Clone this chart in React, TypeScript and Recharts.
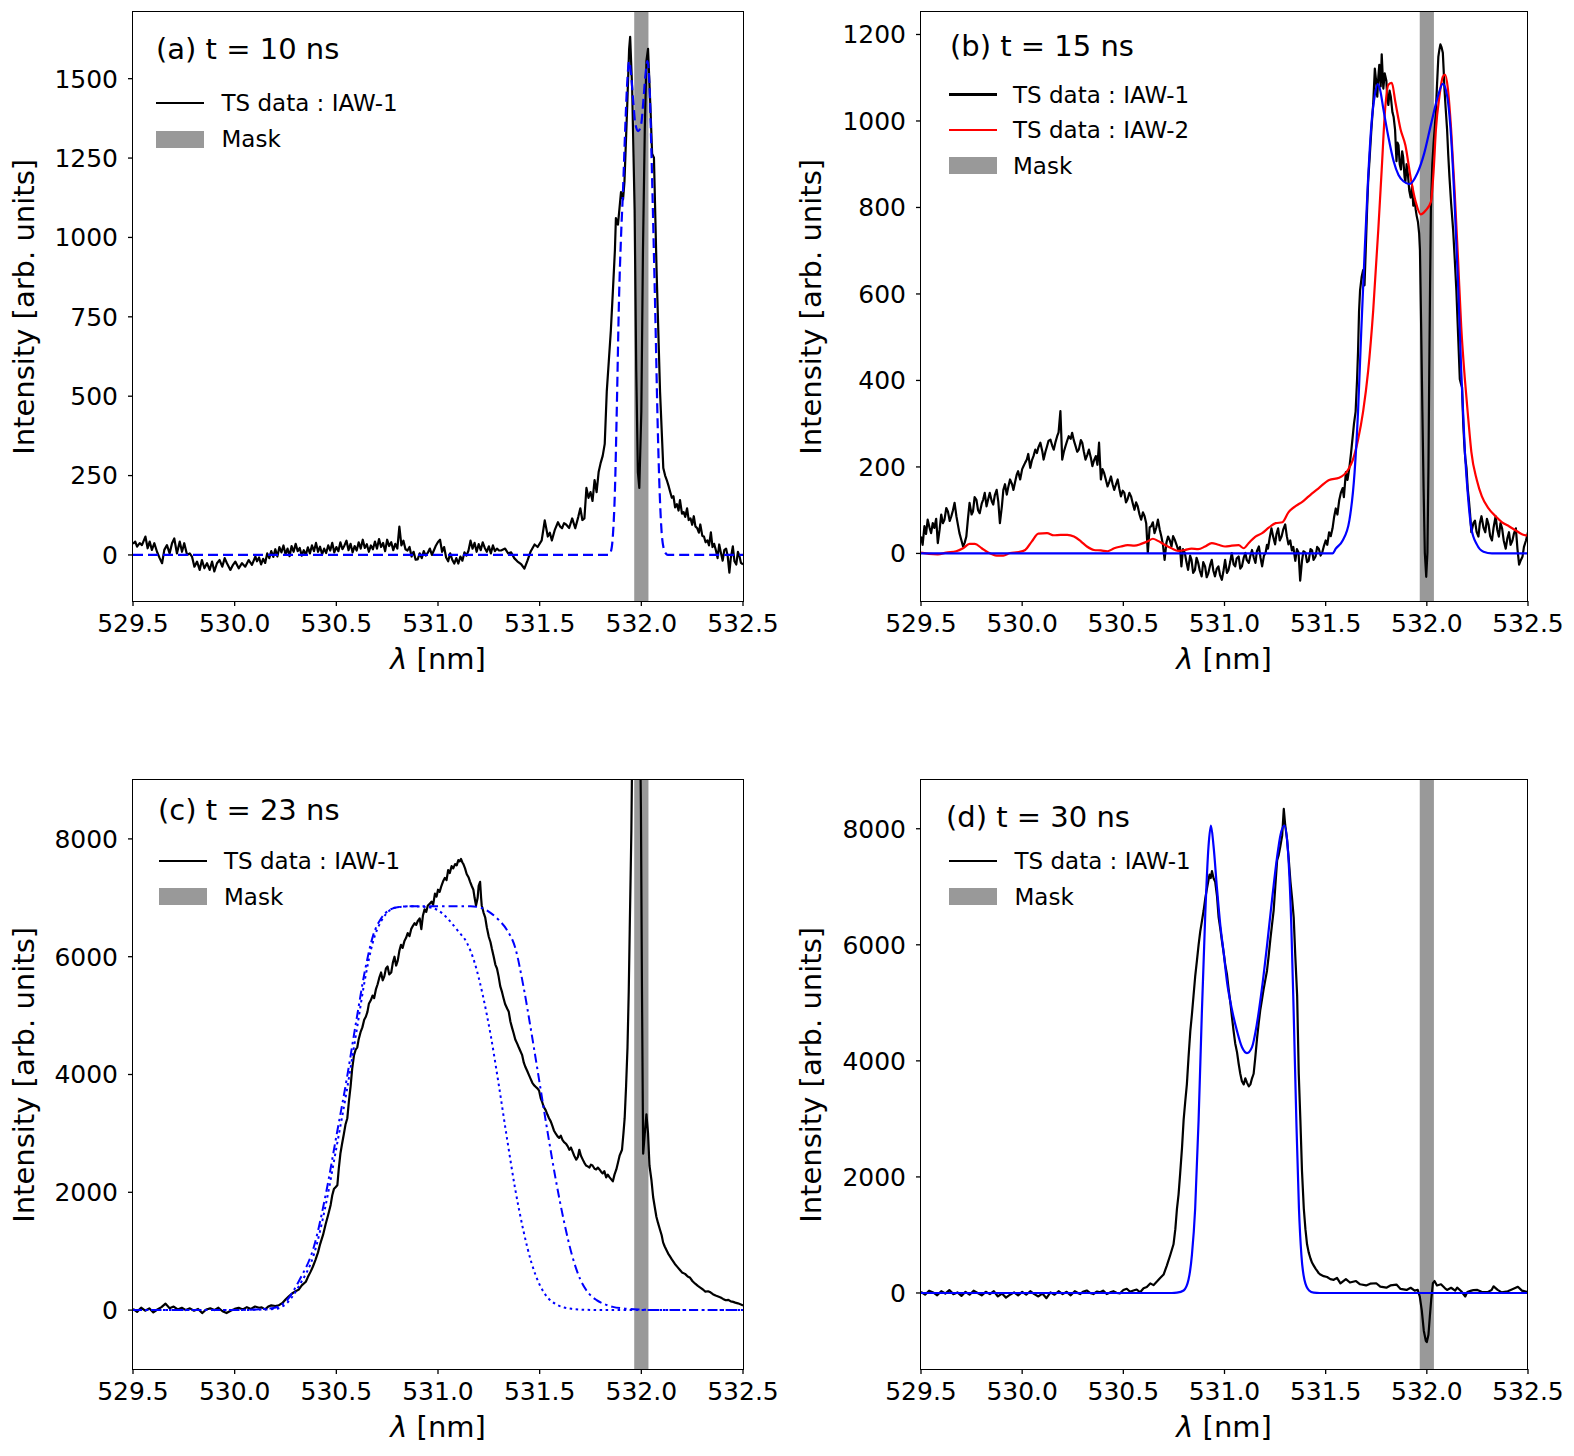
import React from "react";
import { LineChart, Line, XAxis, YAxis, ReferenceArea } from "recharts";

type Pt = [number, number];

const FONT = "'DejaVu Sans', 'Liberation Sans', sans-serif";

// shared axis data
const lambdaTicks = [529.5, 530.0, 530.5, 531.0, 531.5, 532.0, 532.5];
const lambdaDomain = [529.5, 532.5];
const maskBand = [531.965, 532.035];

// ---------- (a) t = 10 ns ----------
const aTicks = [0, 250, 500, 750, 1000, 1250, 1500];
const aDomain = [-145, 1710];
const aData: Pt[] = [
  [529.5, 40], [529.503, 37], [529.511, 42], [529.52, 26], [529.533, 37], [529.544, 31], [529.561, 58], [529.572, 21],
  [529.582, 42], [529.593, 16], [529.605, 37], [529.618, 10], [529.631, -10], [529.643, -26], [529.654, 16], [529.667, 31],
  [529.68, 5], [529.692, 37], [529.703, 52], [529.716, 5], [529.73, 42], [529.741, 10], [529.752, 37], [529.766, 0],
  [529.779, 5], [529.79, -5], [529.802, -37], [529.815, -21], [529.828, -47], [529.839, -16], [529.851, -42], [529.864, -26],
  [529.877, -47], [529.889, -21], [529.9, -52], [529.913, -26], [529.926, -16], [529.939, -37], [529.951, -10], [529.962, -26],
  [529.979, -47], [529.992, -31], [530.003, -21], [530.02, -42], [530.036, -26], [530.052, -37], [530.069, -16], [530.085, -31],
  [530.102, -5], [530.11, -20], [530.12, -8], [530.13, -30], [530.14, -12], [530.15, -25], [530.16, 5], [530.17, -10],
  [530.18, 12], [530.19, -6], [530.2, 18], [530.21, -5], [530.22, 25], [530.23, 8], [530.24, 30], [530.25, 2],
  [530.26, 20], [530.27, -4], [530.28, 28], [530.29, 10], [530.3, 35], [530.31, 12], [530.32, 22], [530.33, -2],
  [530.34, 15], [530.35, 0], [530.36, 24], [530.37, 5], [530.38, 30], [530.39, 12], [530.4, 38], [530.41, 10],
  [530.42, 26], [530.43, 2], [530.44, 20], [530.45, 6], [530.46, 30], [530.47, 14], [530.48, 38], [530.49, 8],
  [530.5, 25], [530.51, 12], [530.52, 40], [530.53, 18], [530.54, 30], [530.55, 45], [530.56, 15], [530.57, 35],
  [530.58, 8], [530.59, 28], [530.6, 14], [530.61, 40], [530.62, 20], [530.63, 48], [530.64, 22], [530.65, 34],
  [530.66, 10], [530.67, 30], [530.68, 18], [530.69, 42], [530.7, 20], [530.71, 50], [530.72, 25], [530.73, 38],
  [530.74, 12], [530.75, 48], [530.76, 28], [530.77, 40], [530.78, 15], [530.79, 35], [530.8, 20], [530.81, 89],
  [530.82, 30], [530.83, 45], [530.84, 18], [530.85, 14], [530.86, 25], [530.87, -5], [530.88, 10], [530.89, -15],
  [530.9, -14], [530.91, 5], [530.92, -10], [530.93, 12], [530.94, -2], [530.95, 7], [530.96, 20], [530.97, 0],
  [530.98, 15], [530.99, 30], [531.0, 41], [531.01, 48], [531.02, 10], [531.03, 25], [531.04, -8], [531.05, -20],
  [531.06, 5], [531.07, -15], [531.08, -27], [531.09, -10], [531.1, -27], [531.11, -5], [531.12, -18], [531.13, 8],
  [531.14, -2], [531.15, 14], [531.16, 45], [531.17, 20], [531.18, 38], [531.19, 10], [531.2, 34], [531.21, 15],
  [531.22, 40], [531.23, 22], [531.24, 10], [531.25, 27], [531.26, 5], [531.27, 30], [531.28, 12], [531.29, 20],
  [531.3, 14], [531.31, 14], [531.33, 20], [531.345, 5], [531.36, 8], [531.375, -10], [531.39, -20], [531.41, -30],
  [531.425, -43], [531.44, -18], [531.455, 10], [531.475, 33], [531.49, 25], [531.51, 46], [531.525, 109], [531.54, 58],
  [531.55, 70], [531.56, 46], [531.575, 80], [531.59, 103], [531.6, 90], [531.61, 84], [531.62, 100], [531.63, 96],
  [531.645, 85], [531.66, 115], [531.675, 84], [531.69, 120], [531.7, 147], [531.71, 110], [531.72, 115], [531.73, 211],
  [531.74, 180], [531.75, 198], [531.76, 170], [531.77, 236], [531.78, 198], [531.79, 261], [531.8, 290], [531.81, 312],
  [531.82, 350], [531.83, 515], [531.84, 610], [531.85, 706], [531.86, 830], [531.87, 959], [531.875, 1061], [531.885, 1040],
  [531.89, 1074], [531.9, 1143], [531.91, 1120], [531.917, 1175], [531.93, 1404], [531.94, 1594], [531.945, 1632], [531.955, 1467],
  [531.967, 1086], [531.975, 579], [531.983, 261], [531.99, 211], [532.0, 452], [532.008, 959], [532.017, 1340], [532.025, 1556],
  [532.033, 1594], [532.045, 1404], [532.053, 1264], [532.062, 1251], [532.075, 896], [532.092, 515], [532.108, 274], [532.117, 250],
  [532.125, 236], [532.135, 215], [532.142, 198], [532.15, 180], [532.158, 185], [532.166, 150], [532.175, 160], [532.183, 140],
  [532.19, 173], [532.2, 130], [532.208, 135], [532.216, 120], [532.225, 147], [532.233, 110], [532.242, 115], [532.25, 95],
  [532.258, 122], [532.266, 90], [532.275, 84], [532.283, 70], [532.29, 96], [532.3, 60], [532.308, 58], [532.316, 40],
  [532.325, 46], [532.333, 30], [532.342, 71], [532.35, 25], [532.358, 35], [532.367, 14], [532.375, -10], [532.383, 33],
  [532.392, 5], [532.4, -18], [532.408, 15], [532.417, 20], [532.425, -5], [532.433, -56], [532.44, -10], [532.45, 27],
  [532.458, -20], [532.467, -30], [532.475, 10], [532.483, -5], [532.49, -25], [532.5, -30],
];
const aFit: Pt[] = [
  [529.5, 0], [531.84, 0], [531.85, 10], [531.86, 60], [531.87, 200], [531.88, 480], [531.89, 800], [531.9, 1000],
  [531.91, 1150], [531.92, 1330], [531.93, 1480], [531.94, 1555], [531.95, 1510], [531.96, 1430], [531.97, 1360], [531.985, 1335],
  [532.0, 1360], [532.01, 1430], [532.02, 1510], [532.03, 1555], [532.04, 1480], [532.05, 1260], [532.06, 1000], [532.07, 720],
  [532.08, 420], [532.09, 200], [532.1, 70], [532.11, 20], [532.12, 5], [532.13, 0], [532.5, 0],
];

// ---------- (b) t = 15 ns ----------
const bTicks = [0, 200, 400, 600, 800, 1000, 1200];
const bDomain = [-110, 1252];
const bData1: Pt[] = [
  [529.5, 39], [529.508, 20], [529.517, 63], [529.525, 45], [529.533, 78], [529.542, 60], [529.55, 47], [529.558, 70],
  [529.566, 59], [529.575, 80], [529.583, 24], [529.592, 55], [529.6, 90], [529.608, 70], [529.616, 78], [529.625, 105],
  [529.633, 97], [529.642, 75], [529.65, 86], [529.658, 100], [529.666, 117], [529.675, 86], [529.683, 65], [529.69, 47],
  [529.7, 30], [529.708, 16], [529.716, 25], [529.724, 39], [529.732, 80], [529.74, 117], [529.75, 90], [529.757, 97],
  [529.765, 130], [529.774, 124], [529.782, 100], [529.79, 93], [529.8, 115], [529.807, 124], [529.815, 140], [529.824, 109],
  [529.832, 125], [529.84, 140], [529.85, 120], [529.857, 113], [529.865, 135], [529.874, 147], [529.882, 120], [529.89, 70],
  [529.9, 110], [529.907, 147], [529.915, 160], [529.924, 136], [529.932, 155], [529.94, 171], [529.95, 160], [529.957, 147],
  [529.965, 165], [529.973, 182], [529.98, 190], [529.99, 171], [530.0, 195], [530.007, 202], [530.015, 210], [530.023, 217],
  [530.03, 230], [530.04, 198], [530.048, 215], [530.056, 225], [530.065, 240], [530.073, 232], [530.08, 245], [530.09, 256],
  [530.1, 235], [530.106, 217], [530.115, 235], [530.123, 248], [530.13, 260], [530.14, 263], [530.148, 250], [530.156, 240],
  [530.165, 258], [530.173, 271], [530.18, 280], [530.189, 329], [530.198, 217], [530.206, 235], [530.214, 248], [530.222, 260],
  [530.23, 271], [530.24, 265], [530.247, 279], [530.255, 262], [530.264, 248], [530.272, 235], [530.28, 240], [530.29, 262],
  [530.297, 256], [530.305, 235], [530.313, 217], [530.322, 228], [530.33, 240], [530.34, 220], [530.347, 202], [530.355, 215],
  [530.364, 225], [530.372, 205], [530.38, 256], [530.389, 171], [530.397, 195], [530.405, 186], [530.414, 170], [530.422, 155],
  [530.43, 165], [530.439, 178], [530.447, 160], [530.455, 147], [530.464, 160], [530.472, 171], [530.48, 150], [530.488, 132],
  [530.497, 145], [530.505, 140], [530.513, 118], [530.52, 124], [530.53, 140], [530.538, 132], [530.547, 115], [530.555, 101],
  [530.563, 118], [530.571, 109], [530.58, 90], [530.588, 78], [530.597, 95], [530.605, 86], [530.613, 70], [530.621, 1],
  [530.63, 60], [530.638, 63], [530.646, 72], [530.654, 47], [530.663, 60], [530.671, 78], [530.68, 55], [530.688, 39],
  [530.696, 20], [530.704, -15], [530.713, 25], [530.721, 39], [530.73, 30], [530.738, 16], [530.746, 40], [530.754, 32],
  [530.763, 20], [530.771, 8], [530.78, 15], [530.787, -30], [530.795, 10], [530.804, 1], [530.812, -20], [530.82, -38],
  [530.83, -5], [530.837, -15], [530.845, -45], [530.854, -38], [530.862, -10], [530.87, -22], [530.878, -40], [530.887, -53],
  [530.895, -20], [530.904, -30], [530.912, -55], [530.92, -46], [530.93, -25], [530.937, -15], [530.945, -40], [530.953, -53],
  [530.962, -35], [530.97, -30], [530.978, -50], [530.987, -61], [530.995, -40], [531.003, -15], [531.012, -45], [531.02, -38],
  [531.028, -20], [531.036, 1], [531.045, -25], [531.053, -30], [531.06, -12], [531.07, -7], [531.078, -35], [531.086, -30],
  [531.095, -10], [531.103, 1], [531.11, -15], [531.12, -22], [531.128, -5], [531.136, 8], [531.145, -10], [531.153, -22],
  [531.16, 5], [531.17, 16], [531.178, -10], [531.186, -30], [531.195, -5], [531.203, 1], [531.21, 20], [531.215, 11],
  [531.223, 35], [531.232, 58], [531.24, 40], [531.25, 21], [531.257, 45], [531.265, 58], [531.273, 30], [531.282, 39],
  [531.29, 55], [531.3, 67], [531.308, 40], [531.316, 21], [531.325, 30], [531.333, 7], [531.34, 15], [531.35, -17],
  [531.358, 10], [531.366, 2], [531.374, -63], [531.383, -17], [531.39, 5], [531.4, 2], [531.408, -20], [531.416, -17],
  [531.425, 10], [531.433, 7], [531.44, -15], [531.45, -7], [531.458, 15], [531.466, 11], [531.475, -5], [531.483, 2],
  [531.49, 15], [531.5, 30], [531.508, 20], [531.517, 49], [531.525, 40], [531.534, 58], [531.542, 85], [531.55, 104],
  [531.558, 90], [531.567, 123], [531.575, 140], [531.584, 151], [531.59, 130], [531.6, 188], [531.608, 170], [531.617, 198],
  [531.625, 230], [531.634, 272], [531.64, 300], [531.648, 328], [531.655, 400], [531.66, 467], [531.665, 560], [531.67, 608],
  [531.678, 640], [531.685, 655], [531.692, 620], [531.698, 701], [531.705, 800], [531.71, 860], [531.718, 920], [531.726, 981],
  [531.735, 1040], [531.743, 1121], [531.75, 1090], [531.755, 1056], [531.76, 1100], [531.765, 1130], [531.772, 1080], [531.777, 1154],
  [531.785, 1075], [531.792, 1110], [531.8, 1093], [531.805, 1050], [531.81, 1037], [531.816, 1070], [531.822, 1056], [531.83, 1020],
  [531.836, 1009], [531.843, 980], [531.85, 907], [531.855, 950], [531.86, 944], [531.866, 900], [531.872, 888], [531.878, 930],
  [531.883, 916], [531.89, 870], [531.894, 860], [531.9, 900], [531.906, 879], [531.913, 840], [531.92, 823], [531.927, 850],
  [531.933, 804], [531.94, 820], [531.945, 795], [531.95, 780], [531.956, 767], [531.962, 740], [531.966, 701], [531.972, 520],
  [531.978, 328], [531.984, 150], [531.99, 2], [531.997, -54], [532.003, 2], [532.008, 200], [532.012, 422], [532.016, 620],
  [532.02, 795], [532.027, 900], [532.034, 953], [532.04, 990], [532.045, 1028], [532.05, 1080], [532.057, 1149], [532.062, 1165],
  [532.067, 1177], [532.073, 1170], [532.079, 1158], [532.083, 1120], [532.087, 1075], [532.093, 1030], [532.1, 981], [532.106, 920],
  [532.112, 869], [532.12, 810], [532.13, 748], [532.138, 680], [532.146, 608], [532.155, 500], [532.163, 403], [532.17, 390],
  [532.174, 384], [532.18, 300], [532.185, 254], [532.19, 220], [532.196, 198], [532.202, 150], [532.208, 123], [532.214, 90],
  [532.22, 49], [532.23, 70], [532.238, 76], [532.246, 50], [532.255, 39], [532.262, 70], [532.27, 86], [532.28, 60],
  [532.289, 49], [532.297, 80], [532.305, 67], [532.313, 40], [532.322, 30], [532.33, 60], [532.34, 86], [532.348, 55],
  [532.356, 39], [532.364, 70], [532.372, 58], [532.38, 30], [532.39, 11], [532.398, 35], [532.406, 49], [532.414, 20],
  [532.423, 30], [532.43, 45], [532.44, 58], [532.448, 10], [532.456, -26], [532.465, -15], [532.473, -7], [532.48, 15],
  [532.49, 30], [532.5, 49],
];
const bData2: Pt[] = [
  [529.5, 2], [529.54, -1], [529.583, -2], [529.625, 2], [529.674, 5], [529.708, 12], [529.74, 22], [529.766, 22],
  [529.8, 12], [529.832, 2], [529.874, -5], [529.907, -5], [529.94, 1], [529.98, 3], [530.015, 8], [530.048, 28],
  [530.08, 46], [530.123, 47], [530.156, 42], [530.19, 43], [530.223, 43], [530.256, 39], [530.29, 28], [530.32, 16],
  [530.355, 8], [530.389, 7], [530.422, 5], [530.455, 12], [530.488, 16], [530.521, 19], [530.555, 18], [530.588, 22],
  [530.621, 28], [530.646, 34], [530.671, 29], [530.704, 20], [530.738, 12], [530.771, 6], [530.804, 8], [530.837, 11],
  [530.87, 10], [530.904, 16], [530.937, 24], [530.97, 20], [531.003, 16], [531.036, 18], [531.07, 19], [531.095, 12],
  [531.12, 24], [531.153, 39], [531.186, 47], [531.22, 60], [531.253, 70], [531.286, 72], [531.316, 95], [531.353, 110],
  [531.386, 120], [531.416, 132], [531.466, 151], [531.517, 170], [531.567, 175], [531.61, 193], [531.634, 216], [531.66, 263],
  [531.685, 328], [531.71, 422], [531.735, 562], [531.76, 748], [531.777, 888], [531.794, 1028], [531.81, 1084], [531.827, 1088],
  [531.844, 1045], [531.87, 981], [531.894, 944], [531.92, 869], [531.945, 813], [531.97, 784], [531.994, 793], [532.02, 813],
  [532.034, 888], [532.045, 981], [532.062, 1056], [532.079, 1102], [532.09, 1107], [532.104, 1075], [532.12, 981], [532.137, 841],
  [532.154, 683], [532.17, 524], [532.188, 403], [532.205, 310], [532.22, 235], [532.247, 170], [532.272, 132], [532.305, 104],
  [532.34, 86], [532.372, 72], [532.406, 63], [532.44, 53], [532.473, 44], [532.5, 41],
];
const bFit: Pt[] = [
  [529.5, 0], [531.534, 0], [531.55, 11], [531.584, 30], [531.617, 76], [531.643, 188], [531.66, 328], [531.676, 515],
  [531.693, 701], [531.71, 869], [531.726, 991], [531.743, 1060], [531.757, 1085], [531.77, 1070], [531.785, 1028], [531.81, 963],
  [531.836, 907], [531.86, 875], [531.886, 860], [531.915, 854], [531.953, 879], [531.987, 925], [532.02, 991], [532.054, 1056],
  [532.079, 1086], [532.095, 1070], [532.104, 1047], [532.12, 963], [532.137, 813], [532.154, 627], [532.17, 422], [532.188, 235],
  [532.205, 123], [532.22, 58], [532.247, 21], [532.28, 4], [532.322, 0], [532.5, 0],
];

// ---------- (c) t = 23 ns ----------
const cTicks = [0, 2000, 4000, 6000, 8000];
const cDomain = [-1000, 9000];
const cData: Pt[] = [
  [529.5, 20], [529.52, -30], [529.54, 40], [529.56, -10], [529.58, 30], [529.6, -40], [529.62, 10], [529.64, 50],
  [529.66, 110], [529.68, 30], [529.7, 60], [529.72, 10], [529.74, 40], [529.76, 0], [529.78, 30], [529.8, -10],
  [529.82, 20], [529.84, -50], [529.86, 10], [529.88, 30], [529.9, 0], [529.92, 40], [529.94, -20], [529.96, -50],
  [529.98, -10], [530.0, 20], [530.02, 40], [530.04, 10], [530.06, 50], [530.08, 20], [530.1, 60], [530.12, 40],
  [530.133, 47], [530.15, 13], [530.165, 60], [530.18, 80], [530.2, 70], [530.216, 80], [530.235, 120], [530.25, 180],
  [530.265, 230], [530.282, 281], [530.3, 320], [530.315, 348], [530.33, 420], [530.35, 482], [530.36, 560], [530.373, 649],
  [530.385, 740], [530.397, 849], [530.41, 980], [530.42, 1117], [530.435, 1280], [530.447, 1452], [530.46, 1620], [530.472, 1786],
  [530.48, 1950], [530.488, 2054], [530.495, 2080], [530.505, 2120], [530.512, 2400], [530.52, 2656], [530.528, 2820], [530.537, 2990],
  [530.545, 3150], [530.554, 3258], [530.562, 3550], [530.57, 3793], [530.578, 4100], [530.587, 4328], [530.595, 4420], [530.603, 4462],
  [530.61, 4600], [530.62, 4729], [530.628, 4800], [530.637, 4930], [530.645, 4980], [530.653, 5064], [530.66, 5200], [530.67, 5264],
  [530.678, 5340], [530.686, 5298], [530.695, 5450], [530.703, 5532], [530.711, 5640], [530.72, 5732], [530.728, 5600], [530.736, 5666],
  [530.744, 5800], [530.752, 5833], [530.76, 5700], [530.77, 5732], [530.778, 5900], [530.786, 6000], [530.794, 5850], [530.802, 5933],
  [530.81, 6100], [530.818, 6201], [530.826, 6150], [530.835, 6268], [530.843, 6320], [530.851, 6401], [530.86, 6350], [530.868, 6468],
  [530.876, 6520], [530.885, 6569], [530.893, 6540], [530.9, 6602], [530.91, 6650], [530.918, 6468], [530.926, 6700], [530.934, 6803],
  [530.942, 6760], [530.95, 6870], [530.96, 6900], [530.968, 6936], [530.976, 6880], [530.985, 7070], [530.993, 7020], [531.0, 7137],
  [531.008, 7100], [531.017, 7204], [531.025, 7280], [531.034, 7338], [531.042, 7300], [531.05, 7472], [531.058, 7420], [531.067, 7538],
  [531.075, 7500], [531.084, 7572], [531.092, 7550], [531.1, 7639], [531.107, 7620], [531.113, 7659], [531.12, 7600], [531.125, 7572],
  [531.133, 7500], [531.141, 7405], [531.15, 7350], [531.158, 7271], [531.166, 7200], [531.174, 7137], [531.18, 7000], [531.187, 6870],
  [531.195, 7000], [531.2, 7204], [531.207, 7271], [531.212, 7000], [531.215, 6870], [531.224, 6750], [531.232, 6669], [531.24, 6500],
  [531.25, 6334], [531.258, 6250], [531.265, 6134], [531.274, 6000], [531.282, 5866], [531.29, 5800], [531.298, 5666], [531.306, 5500],
  [531.315, 5398], [531.322, 5300], [531.33, 5197], [531.34, 5120], [531.348, 5064], [531.356, 4900], [531.364, 4796], [531.372, 4700],
  [531.38, 4595], [531.39, 4520], [531.397, 4462], [531.405, 4400], [531.414, 4328], [531.422, 4200], [531.43, 4127], [531.44, 4050],
  [531.447, 3993], [531.455, 3930], [531.464, 3859], [531.472, 3820], [531.48, 3793], [531.49, 3760], [531.497, 3726], [531.505, 3600],
  [531.513, 3525], [531.52, 3450], [531.53, 3391], [531.538, 3320], [531.546, 3258], [531.555, 3200], [531.563, 3124], [531.57, 3050],
  [531.58, 2990], [531.588, 2950], [531.596, 2923], [531.604, 2960], [531.612, 2890], [531.62, 2850], [531.63, 2823], [531.638, 2780],
  [531.646, 2722], [531.654, 2760], [531.662, 2689], [531.67, 2620], [531.68, 2555], [531.688, 2600], [531.695, 2722], [531.703, 2620],
  [531.712, 2555], [531.72, 2500], [531.728, 2455], [531.736, 2440], [531.745, 2421], [531.752, 2470], [531.76, 2455], [531.77, 2400],
  [531.778, 2388], [531.786, 2420], [531.794, 2388], [531.802, 2350], [531.81, 2321], [531.818, 2360], [531.827, 2254], [531.835, 2300],
  [531.844, 2254], [531.852, 2220], [531.86, 2187], [531.868, 2300], [531.877, 2388], [531.885, 2500], [531.893, 2622], [531.9, 2680],
  [531.905, 2722], [531.912, 3000], [531.918, 3258], [531.925, 3800], [531.932, 4462], [531.938, 5400], [531.943, 6468], [531.947, 7300],
  [531.951, 8140], [531.956, 9800], [531.962, 13000], [531.97, 16000], [531.978, 15500], [531.985, 13000], [531.992, 10500], [531.998, 8500],
  [532.003, 5500], [532.009, 2656], [532.017, 3000], [532.025, 3324], [532.033, 3000], [532.04, 2455], [532.05, 2200], [532.058, 1920],
  [532.066, 1750], [532.074, 1585], [532.082, 1480], [532.09, 1385], [532.1, 1270], [532.107, 1150], [532.115, 1080], [532.124, 1017],
  [532.132, 960], [532.14, 916], [532.15, 860], [532.165, 783], [532.178, 730], [532.19, 682], [532.2, 640], [532.215, 615],
  [532.228, 570], [532.24, 548], [532.252, 490], [532.265, 448], [532.278, 410], [532.29, 381], [532.303, 350], [532.315, 314],
  [532.328, 320], [532.34, 301], [532.352, 270], [532.365, 247], [532.378, 230], [532.39, 214], [532.402, 190], [532.415, 167],
  [532.428, 175], [532.44, 147], [532.452, 140], [532.462, 127], [532.475, 115], [532.49, 95], [532.5, 80],
];
const cFitWide: Pt[] = [
  [529.5, 0], [530.0, 2], [530.1, 10], [530.19, 35], [530.26, 180], [530.32, 520], [530.39, 1080], [530.45, 2000],
  [530.5, 2950], [530.55, 3900], [530.6, 4950], [530.64, 5750], [530.68, 6350], [530.72, 6650], [530.76, 6790], [530.8, 6840],
  [530.86, 6856], [531.16, 6856], [531.22, 6820], [531.26, 6740], [531.3, 6620], [531.34, 6450], [531.38, 6150], [531.42, 5500],
  [531.46, 4700], [531.5, 3850], [531.54, 3000], [531.58, 2200], [531.62, 1500], [531.66, 920], [531.7, 520], [531.74, 290],
  [531.78, 170], [531.82, 100], [531.86, 55], [531.92, 25], [532.0, 8], [532.1, 0], [532.5, 0],
];
const cFitNarrow: Pt[] = [
  [529.5, 0], [530.0, 1], [530.1, 6], [530.2, 20], [530.26, 130], [530.32, 430], [530.39, 950], [530.45, 1820],
  [530.5, 2750], [530.55, 3700], [530.6, 4750], [530.64, 5600], [530.68, 6250], [530.72, 6600], [530.76, 6780], [530.8, 6840],
  [530.86, 6856], [530.92, 6850], [530.98, 6820], [531.02, 6740], [531.06, 6600], [531.1, 6430], [531.14, 6250], [531.18, 5900],
  [531.22, 5350], [531.26, 4650], [531.3, 3800], [531.34, 2900], [531.38, 2050], [531.42, 1350], [531.46, 800], [531.5, 430],
  [531.54, 210], [531.58, 100], [531.62, 45], [531.66, 20], [531.72, 6], [531.8, 0], [532.5, 0],
];

// ---------- (d) t = 30 ns ----------
const dTicks = [0, 2000, 4000, 6000, 8000];
const dDomain = [-1310, 8840];
const dData: Pt[] = [
  [529.5, 20], [529.52, -30], [529.54, 40], [529.56, 10], [529.58, -40], [529.6, 30], [529.62, -10], [529.64, 50],
  [529.66, -20], [529.68, 10], [529.7, -50], [529.72, 20], [529.74, -30], [529.76, 40], [529.78, 0], [529.8, -40],
  [529.82, 20], [529.84, -20], [529.86, 30], [529.88, -60], [529.9, -10], [529.92, -80], [529.94, -30], [529.96, 10],
  [529.98, -40], [530.0, 20], [530.02, -30], [530.04, 30], [530.06, -20], [530.08, -60], [530.1, -10], [530.12, -90],
  [530.14, 10], [530.16, -30], [530.18, 30], [530.2, -20], [530.22, 20], [530.24, -40], [530.26, 30], [530.28, -10],
  [530.286, -18], [530.3, 20], [530.319, 43], [530.335, 0], [530.352, -18], [530.37, 25], [530.385, 12], [530.4, 40],
  [530.418, -18], [530.435, 10], [530.451, 31], [530.468, 0], [530.484, -6], [530.5, 50], [530.517, 73], [530.533, 20],
  [530.55, 43], [530.566, 60], [530.583, 12], [530.6, 80], [530.616, 104], [530.633, 165], [530.649, 135], [530.666, 196],
  [530.682, 257], [530.699, 318], [530.715, 472], [530.732, 655], [530.748, 839], [530.757, 1100], [530.765, 1451], [530.773, 1700],
  [530.781, 2064], [530.79, 2500], [530.798, 2982], [530.806, 3300], [530.814, 3595], [530.822, 4050], [530.831, 4513], [530.839, 4800],
  [530.847, 5126], [530.855, 5450], [530.864, 5738], [530.872, 6000], [530.88, 6228], [530.889, 6420], [530.897, 6595], [530.905, 6800],
  [530.913, 6963], [530.92, 7100], [530.926, 7208], [530.932, 7150], [530.938, 7269], [530.946, 7146], [530.954, 7085], [530.963, 6840],
  [530.971, 6473], [530.979, 6283], [530.988, 6050], [530.996, 5860], [531.004, 5650], [531.012, 5493], [531.02, 5250], [531.029, 5003],
  [531.037, 4750], [531.045, 4513], [531.053, 4300], [531.062, 4146], [531.07, 3950], [531.078, 3778], [531.086, 3650], [531.095, 3595],
  [531.103, 3700], [531.111, 3625], [531.12, 3560], [531.128, 3595], [531.136, 3700], [531.144, 3778], [531.152, 4050], [531.161, 4391],
  [531.169, 4650], [531.177, 4881], [531.185, 5050], [531.194, 5248], [531.202, 5400], [531.21, 5554], [531.218, 5800], [531.227, 6106],
  [531.235, 6350], [531.243, 6595], [531.251, 7000], [531.26, 7453], [531.268, 7550], [531.276, 7698], [531.285, 7881], [531.293, 8341],
  [531.3, 8065], [531.309, 7820], [531.317, 7500], [531.326, 7085], [531.334, 6800], [531.342, 6473], [531.35, 5800], [531.359, 5126],
  [531.367, 3778], [531.375, 2982], [531.383, 2100], [531.392, 1451], [531.4, 1100], [531.408, 839], [531.416, 700], [531.425, 594],
  [531.433, 520], [531.441, 472], [531.45, 420], [531.458, 380], [531.466, 340], [531.474, 318], [531.49, 290], [531.507, 276],
  [531.523, 240], [531.54, 227], [531.556, 260], [531.573, 165], [531.6, 240], [531.62, 180], [531.65, 206], [531.67, 150],
  [531.7, 130], [531.72, 160], [531.75, 168], [531.77, 110], [531.8, 91], [531.82, 130], [531.85, 145], [531.87, 70],
  [531.9, 53], [531.92, 90], [531.94, 40], [531.955, 53], [531.965, -60], [531.975, -300], [531.985, -650], [531.995, -823],
  [532.0, -845], [532.008, -720], [532.015, -400], [532.022, -100], [532.03, 168], [532.038, 206], [532.05, 130], [532.07, 150],
  [532.09, 80], [532.1, 53], [532.12, 90], [532.14, 40], [532.15, 91], [532.17, 30], [532.19, -60], [532.2, 15],
  [532.22, 40], [532.23, 50], [532.25, 53], [532.27, 20], [532.3, 15], [532.32, 50], [532.33, 115], [532.35, 53],
  [532.37, 10], [532.4, 30], [532.42, 60], [532.45, 107], [532.47, 40], [532.5, 15],
];
const dFit: Pt[] = [
  [529.5, 0], [530.74, 0], [530.765, 6], [530.798, 43], [530.822, 227], [530.839, 655], [530.855, 1451], [530.872, 2982],
  [530.888, 4819], [530.905, 6534], [530.921, 7698], [530.933, 8053], [530.946, 7698], [530.963, 6963], [530.979, 6350], [530.996, 5860],
  [531.012, 5370], [531.037, 4881], [531.062, 4513], [531.086, 4238], [531.111, 4134], [531.136, 4238], [531.16, 4636], [531.185, 5248],
  [531.21, 5983], [531.235, 6779], [531.26, 7514], [531.276, 7881], [531.296, 8053], [531.312, 7698], [531.33, 6350], [531.342, 4819],
  [531.355, 2982], [531.368, 1451], [531.38, 655], [531.395, 227], [531.418, 43], [531.441, 6], [531.47, 0], [532.5, 0],
];

interface Box { left: number; top: number; w: number; h: number }
interface SeriesCfg { pts: Pt[]; color: string; width: number; dash?: string; curve: "linear" | "monotone" }
interface LegendCfg { label: string; kind: "line" | "patch"; color: string; y: number }
interface PanelCfg {
  box: Box;
  yDomain: number[];
  yTicks: number[];
  series: SeriesCfg[];
  title: string;
  titleX: number;
  titleBase: number;
  legendX: number;
  legendTextX: number;
  legend: LegendCfg[];
}

const BLACK = "#000000";
const BLUE = "#0000ff";
const RED = "#ff0000";
const GREY = "#999999";

const panels: PanelCfg[] = [
  {
    box: { left: 133, top: 12, w: 610, h: 589 },
    yDomain: aDomain,
    yTicks: aTicks,
    series: [
      { pts: aData, color: BLACK, width: 2.2, curve: "linear" },
      { pts: aFit, color: BLUE, width: 2.2, dash: "10 5", curve: "monotone" },
    ],
    title: "(a) t = 10 ns",
    titleX: 156,
    titleBase: 59.5,
    legendX: 156,
    legendTextX: 221.5,
    legend: [
      { label: "TS data : IAW-1", kind: "line", color: BLACK, y: 103 },
      { label: "Mask", kind: "patch", color: GREY, y: 139 },
    ],
  },
  {
    box: { left: 920.5, top: 12, w: 607, h: 589 },
    yDomain: bDomain,
    yTicks: bTicks,
    series: [
      { pts: bData1, color: BLACK, width: 2.2, curve: "linear" },
      { pts: bData2, color: RED, width: 2.2, curve: "monotone" },
      { pts: bFit, color: BLUE, width: 2.2, curve: "monotone" },
    ],
    title: "(b) t = 15 ns",
    titleX: 950,
    titleBase: 56.5,
    legendX: 948.5,
    legendTextX: 1013,
    legend: [
      { label: "TS data : IAW-1", kind: "line", color: BLACK, y: 94.5 },
      { label: "TS data : IAW-2", kind: "line", color: RED, y: 130 },
      { label: "Mask", kind: "patch", color: GREY, y: 165.5 },
    ],
  },
  {
    box: { left: 133, top: 780, w: 610, h: 589 },
    yDomain: cDomain,
    yTicks: cTicks,
    series: [
      { pts: cData, color: BLACK, width: 2.2, curve: "linear" },
      { pts: cFitWide, color: BLUE, width: 2, dash: "9 4 2.5 4", curve: "monotone" },
      { pts: cFitNarrow, color: BLUE, width: 2, dash: "2.5 3.5", curve: "monotone" },
    ],
    title: "(c) t = 23 ns",
    titleX: 158,
    titleBase: 821,
    legendX: 159,
    legendTextX: 224,
    legend: [
      { label: "TS data : IAW-1", kind: "line", color: BLACK, y: 861 },
      { label: "Mask", kind: "patch", color: GREY, y: 896.5 },
    ],
  },
  {
    box: { left: 920.5, top: 780, w: 607, h: 589 },
    yDomain: dDomain,
    yTicks: dTicks,
    series: [
      { pts: dData, color: BLACK, width: 2.2, curve: "linear" },
      { pts: dFit, color: BLUE, width: 2.2, curve: "monotone" },
    ],
    title: "(d) t = 30 ns",
    titleX: 946,
    titleBase: 828,
    legendX: 949,
    legendTextX: 1014.5,
    legend: [
      { label: "TS data : IAW-1", kind: "line", color: BLACK, y: 861 },
      { label: "Mask", kind: "patch", color: GREY, y: 896.5 },
    ],
  },
];

const toRows = (pts: Pt[]) => pts.map(([x, y]) => ({ x, y }));

function Panel({ cfg }: { cfg: PanelCfg }) {
  const { box } = cfg;
  const padL = 120;
  const padT = 10;
  const padR = 44;
  const padB = 50;
  const tickStyle = { fontSize: 25, fill: "#000", fontFamily: FONT };
  const tickLine = { stroke: "#000", strokeWidth: 1.3 };

  return (
    <>
      <div style={{ position: "absolute", left: box.left - padL, top: box.top - padT }}>
        <LineChart
          width={padL + box.w + padR}
          height={padT + box.h + padB}
          margin={{ top: padT, right: padR, bottom: 0, left: 0 }}
          style={{ overflow: "visible" }}
        >
          <XAxis
            type="number"
            dataKey="x"
            domain={lambdaDomain}
            ticks={lambdaTicks}
            interval={0}
            allowDataOverflow
            tickFormatter={(v: number) => v.toFixed(1)}
            height={padB}
            axisLine={false}
            tickLine={tickLine}
            tickSize={5}
            tickMargin={8}
            tick={tickStyle}
          />
          <YAxis
            type="number"
            domain={cfg.yDomain}
            ticks={cfg.yTicks}
            interval={0}
            allowDataOverflow
            width={padL}
            axisLine={false}
            tickLine={tickLine}
            tickSize={5}
            tickMargin={10}
            tick={tickStyle}
          />
          <ReferenceArea
            x1={maskBand[0]}
            x2={maskBand[1]}
            fill={GREY}
            fillOpacity={1}
            stroke="none"
            ifOverflow="hidden"
          />
          {cfg.series.map((s, i) => (
            <Line
              key={i}
              data={toRows(s.pts)}
              dataKey="y"
              type={s.curve}
              stroke={s.color}
              strokeWidth={s.width}
              strokeDasharray={s.dash}
              strokeLinejoin="round"
              dot={false}
              activeDot={false}
              isAnimationActive={false}
            />
          ))}
        </LineChart>
      </div>

      {/* frame */}
      <div
        style={{
          position: "absolute",
          left: box.left - 0.65,
          top: box.top - 0.65,
          width: box.w + 1.3,
          height: box.h + 1.3,
          border: "1.3px solid #000",
          boxSizing: "border-box",
          pointerEvents: "none",
        }}
      />

      {/* panel title */}
      <div
        style={{
          position: "absolute",
          left: cfg.titleX,
          top: cfg.titleBase - 0.928 * 29,
          fontSize: 29,
          lineHeight: 1.164,
          whiteSpace: "nowrap",
          color: "#000",
        }}
      >
        {cfg.title}
      </div>

      {/* legend */}
      {cfg.legend.map((it, i) => (
        <React.Fragment key={i}>
          {it.kind === "line" ? (
            <div
              style={{
                position: "absolute",
                left: cfg.legendX,
                top: it.y - 1.1,
                width: 48,
                height: 2.2,
                background: it.color,
              }}
            />
          ) : (
            <div
              style={{
                position: "absolute",
                left: cfg.legendX,
                top: it.y - 8.5,
                width: 48,
                height: 17,
                background: it.color,
              }}
            />
          )}
          <div
            style={{
              position: "absolute",
              left: cfg.legendTextX,
              top: it.y + 8.4 - 0.928 * 23,
              fontSize: 23,
              lineHeight: 1.164,
              whiteSpace: "nowrap",
              color: "#000",
            }}
          >
            {it.label}
          </div>
        </React.Fragment>
      ))}

      {/* axis labels */}
      <div
        style={{
          position: "absolute",
          left: box.left + box.w / 2 - 150,
          width: 300,
          top: box.top + box.h + 69 - 0.928 * 29,
          fontSize: 29,
          lineHeight: 1.164,
          textAlign: "center",
          whiteSpace: "nowrap",
          color: "#000",
        }}
      >
        <span style={{ fontStyle: "italic" }}>λ</span> [nm]
      </div>
      <div
        style={{
          position: "absolute",
          left: box.left - 108.5 - 250,
          top: box.top + box.h / 2 - 0.582 * 29,
          width: 500,
          fontSize: 29,
          lineHeight: 1.164,
          textAlign: "center",
          whiteSpace: "nowrap",
          color: "#000",
          transform: "rotate(-90deg)",
        }}
      >
        Intensity [arb. units]
      </div>
    </>
  );
}

export default function App() {
  return (
    <div
      style={{
        position: "absolute",
        left: 0,
        top: 0,
        width: 1574,
        height: 1456,
        overflow: "hidden",
        background: "#fff",
        fontFamily: FONT,
      }}
    >
      {panels.map((p, i) => (
        <Panel key={i} cfg={p} />
      ))}
    </div>
  );
}
